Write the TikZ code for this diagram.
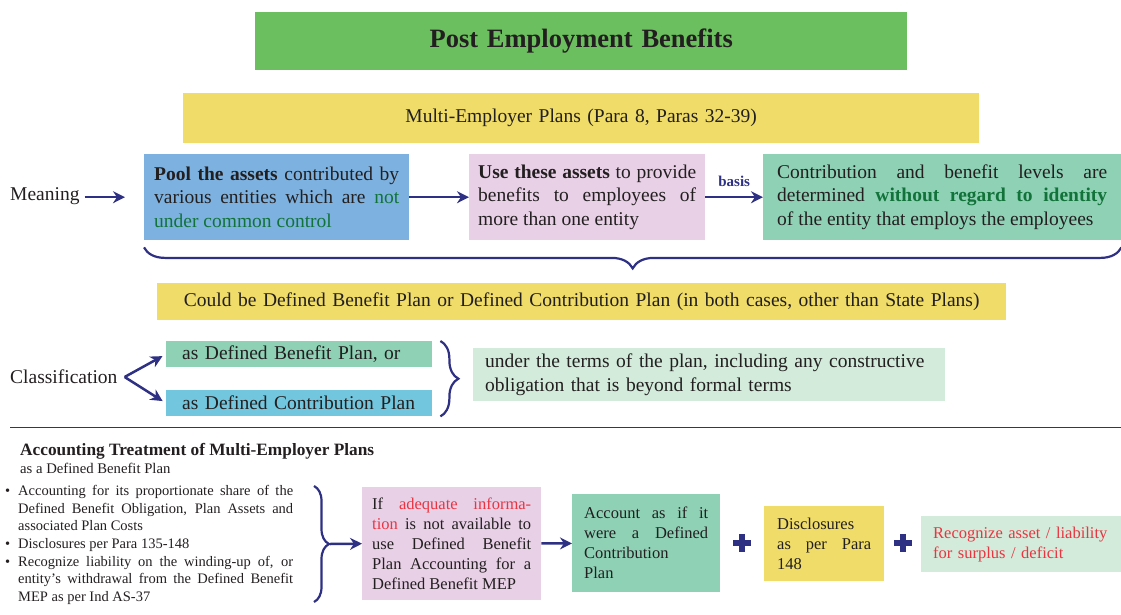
\documentclass[tikz,border=0pt]{standalone}
\usepackage{fontspec}
\setmainfont{Liberation Serif}
\usetikzlibrary{arrows.meta}
\usetikzlibrary{decorations.pathreplacing}
\usetikzlibrary{positioning}
\definecolor{titlegreen}{HTML}{6CBF5E}
\definecolor{planyellow}{HTML}{F0DC68}
\definecolor{poolblue}{HTML}{7DB2E0}
\definecolor{usepink}{HTML}{E8D0E6}
\definecolor{levelgreen}{HTML}{8ED1B5}
\definecolor{palegreen}{HTML}{D2EBDA}
\definecolor{dcblue}{HTML}{72C7DE}
\definecolor{navy}{HTML}{2E3083}
\definecolor{inktext}{HTML}{231F20}
\definecolor{dkgreen}{HTML}{12733A}
\definecolor{alertred}{HTML}{EC3340}
\tikzset{
  box/.style={anchor=north west, inner ysep=0pt, align=justify, text=inktext,
    font=\fontsize{19.5}{23.5}\selectfont},
  smallbox/.style={box, font=\fontsize{16.5}{20}\selectfont},
  lbl/.style={inner sep=0pt, text=inktext, font=\fontsize{19.5}{23.5}\selectfont},
  arr/.style={navy, line width=2.5pt, -{Stealth[length=12pt,width=12pt]}},
  bracestyle/.style={navy, line width=2.2pt, decorate, decoration={brace, amplitude=#1}},
  plusmark/.style={minimum size=18pt, inner sep=0pt,
    path picture={\draw[navy, line width=6pt]
      (path picture bounding box.west) -- (path picture bounding box.east)
      (path picture bounding box.north) -- (path picture bounding box.south);}},
}
\newcommand{\bulletline}[1]{\hangindent=13pt\hangafter=1\noindent\hbox to 13pt{\textbullet\hfil}#1\par}

\begin{document}
\begin{tikzpicture}[x=1pt,y=-1pt]
\useasboundingbox (0,0) rectangle (1121,615);
% headings
\node[box, fill=titlegreen, minimum width=652pt, minimum height=58pt, text width=632pt, align=center,
  font=\fontsize{26.5}{31}\selectfont\bfseries] (title) at (255,12) {Post Employment Benefits};
\node[box, fill=planyellow, minimum width=796pt, minimum height=50pt, text width=776pt, align=center] (mep) at (183,93) {Multi-Employer Plans (Para 8, Paras 32-39)};

% meaning
\node[lbl, anchor=west] (meaning) at (10,196) {Meaning};
\node[box, fill=poolblue, minimum height=86pt, inner xsep=10pt, text width=245pt] (pool) at (144,154)
  {\textbf{Pool the assets} contributed by\linebreak various entities which are \textcolor{dkgreen}{not\linebreak under common control}};
\node[box, fill=usepink, minimum height=86pt, inner xsep=9pt, text width=218pt] (use) at (469,154)
  {\textbf{Use these assets} to provide\linebreak benefits to employees of\linebreak more than one entity};
\node[box, fill=levelgreen, minimum height=86pt, inner xsep=14pt, text width=330pt] (contrib) at (763,154)
  {Contribution and benefit levels are\linebreak determined \textcolor{dkgreen}{\textbf{without regard to identity}}\linebreak of the entity that employs the employees};
\draw[arr, shorten <=5pt, shorten >=19pt] (meaning.east |- pool.west) -- (pool.west);
\draw[arr] (pool) -- (use);
\draw[arr] (use) -- node[above, inner sep=9pt, text=navy, font=\fontsize{15}{18}\selectfont\bfseries] (basis) {basis} (contrib);
\draw[bracestyle=21pt, decoration={mirror}] ([yshift=-7pt]pool.south west) -- ([yshift=-7pt]contrib.south east);

\node[box, fill=planyellow, minimum width=849pt, minimum height=37pt, text width=829pt, align=center] (could) at (157,283)
  {Could be Defined Benefit Plan or Defined Contribution Plan (in both cases, other than State Plans)};

% classification
\node[lbl, anchor=west] (classif) at (10,377) {Classification};
\node[box, fill=levelgreen, minimum height=26pt, inner xsep=16pt, text width=234pt, align=left] (dbp) at (166,341) {as Defined Benefit Plan, or};
\node[box, fill=dcblue, minimum height=26pt, inner xsep=16pt, text width=234pt, align=left] (dcp) at (166,390) {as Defined Contribution Plan};
\coordinate (fork) at ([xshift=7pt]classif.east);
\draw[arr, shorten >=4pt] (fork) -- (dbp.west);
\draw[arr, shorten >=4pt] (fork) -- (dcp.west);
\draw[bracestyle=18pt] ([xshift=8pt]dbp.north east) -- ([xshift=8pt]dcp.south east);
\node[box, fill=palegreen, minimum height=53pt, inner xsep=12pt, text width=448pt, align=left] (terms) at (473,348)
  {under the terms of the plan, including any constructive\\obligation that is beyond formal terms};

\draw[navy, line width=0.8pt] (10,427) -- (1121,427);

% accounting treatment
\node[inner sep=0pt, anchor=base west, text=inktext, font=\fontsize{17.3}{20}\selectfont\bfseries] (accthead) at (20,455)
  {Accounting Treatment of Multi-Employer Plans};
\node[inner sep=0pt, anchor=base west, text=inktext, font=\fontsize{14.7}{17}\selectfont] (acctsub) at (20,473)
  {as a Defined Benefit Plan};
\node[anchor=north west, inner sep=0pt, text width=288pt, align=justify, text=inktext,
  font=\fontsize{14.5}{17.7}\selectfont] (bullets) at (5,485) {%
  \bulletline{Accounting for its proportionate share of the\linebreak Defined Benefit Obligation, Plan Assets and\linebreak associated Plan Costs}%
  \bulletline{Disclosures per Para 135-148}%
  \bulletline{Recognize liability on the winding-up of, or\linebreak entity's withdrawal from the Defined Benefit\linebreak MEP as per Ind AS-37}};
\coordinate (btop) at (314,486);
\coordinate (bbot) at (314,602);
\coordinate (btip) at (330,544);
\draw[bracestyle=15pt] (btop) -- (bbot);

\node[smallbox, fill=usepink, minimum height=113pt, inner xsep=10pt, text width=159pt] (info) at (362,487)
  {If \textcolor{alertred}{adequate informa-\linebreak tion} is not available to\linebreak use Defined Benefit\linebreak Plan Accounting for a\linebreak Defined Benefit MEP};
\node[smallbox, fill=levelgreen, minimum height=98pt, inner xsep=12pt, text width=124pt] (dc) at (572,494)
  {Account as if it\linebreak were a Defined\linebreak Contribution\linebreak Plan};
\node[plusmark] (plus1) at (742,543) {};
\node[smallbox, fill=planyellow, minimum height=75pt, inner xsep=13pt, text width=94pt] (discl) at (764,506)
  {Disclosures\linebreak as per Para\linebreak 148};
\node[plusmark] (plus2) at (903,543) {};
\node[smallbox, fill=palegreen, minimum height=56pt, inner xsep=12pt, text width=176pt, align=left, text=alertred] (recog) at (921,516)
  {Recognize asset / liability\\for surplus / deficit};
\draw[arr] (btip) -- (info.west);
\draw[arr] (info) -- (dc);
\end{tikzpicture}
\end{document}
